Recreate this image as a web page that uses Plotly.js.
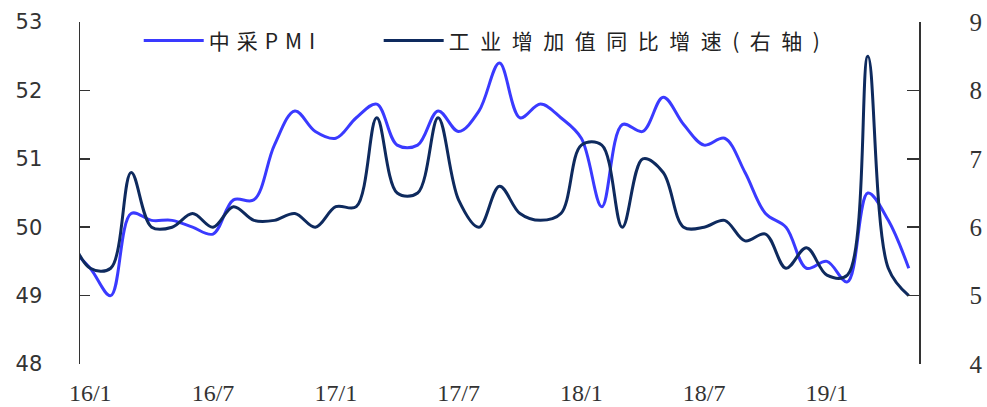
<!DOCTYPE html>
<html>
<head>
<meta charset="utf-8">
<script src="https://cdn.plot.ly/plotly-3.0.1.min.js"></script>
<style>
  html, body { margin: 0; padding: 0; background: #fff; }
  #chart { width: 987px; height: 407px; }
</style>
</head>
<body>
<div id="chart"></div>
<script>
// Monthly observations, 2015/12 through 2019/5
const months = [
  '15/12',
  '16/1','16/2','16/3','16/4','16/5','16/6','16/7','16/8','16/9','16/10','16/11','16/12',
  '17/1','17/2','17/3','17/4','17/5','17/6','17/7','17/8','17/9','17/10','17/11','17/12',
  '18/1','18/2','18/3','18/4','18/5','18/6','18/7','18/8','18/9','18/10','18/11','18/12',
  '19/1','19/2','19/3','19/4','19/5'
];

// Official manufacturing PMI (left axis)
const pmi = [
  49.7,
  49.4, 49.0, 50.2, 50.1, 50.1, 50.0, 49.9, 50.4, 50.4, 51.2, 51.7, 51.4,
  51.3, 51.6, 51.8, 51.2, 51.2, 51.7, 51.4, 51.7, 52.4, 51.6, 51.8, 51.6,
  51.3, 50.3, 51.5, 51.4, 51.9, 51.5, 51.2, 51.3, 50.8, 50.2, 50.0, 49.4,
  49.5, 49.2, 50.5, 50.1, 49.4
];

// Industrial value added, y/y % (right axis)
const ipGrowth = [
  5.9,
  5.4, 5.4, 6.8, 6.0, 6.0, 6.2, 6.0, 6.3, 6.1, 6.1, 6.2, 6.0,
  6.3, 6.3, 7.6, 6.5, 6.5, 7.6, 6.4, 6.0, 6.6, 6.2, 6.1, 6.2,
  7.2, 7.2, 6.0, 7.0, 6.8, 6.0, 6.0, 6.1, 5.8, 5.9, 5.4, 5.7,
  5.3, 5.3, 8.5, 5.4, 5.0
];

const tickLabels = ['16/1', '16/7', '17/1', '17/7', '18/1', '18/7', '19/1'];
const seriesNames = ['中采PMI', '工业增加值同比增速(右轴)'];

// month position: 16/1 sits at 0
const start = months.indexOf('16/1');
const xIdx = months.map((m, i) => i - start);
const labelPos = tickLabels.map(t => months.indexOf(t) - start);
const boundaryPos = labelPos.slice(1).map(p => p - 0.5);
const xRange = [-0.5, months.length - 1 - start + 0.5];

const serifFont = { family: 'Liberation Serif, DejaVu Serif, serif', size: 24, color: '#333' };
const sansFont = { family: 'DejaVu Sans, Verdana, sans-serif', size: 21, color: '#333' };
const legendFont = { family: 'Noto Sans CJK SC, sans-serif', size: 21, color: '#222' };

const traces = [
  {
    x: xIdx, y: pmi, name: seriesNames[0], type: 'scatter', mode: 'lines',
    line: { color: '#3a3aff', width: 3, shape: 'spline', smoothing: 1 },
    xaxis: 'x', yaxis: 'y', legend: 'legend'
  },
  {
    x: xIdx, y: ipGrowth, name: seriesNames[1], type: 'scatter', mode: 'lines',
    line: { color: '#0e2a5e', width: 3, shape: 'spline', smoothing: 1 },
    xaxis: 'x', yaxis: 'y2', legend: 'legend2'
  }
];

const legendBase = {
  orientation: 'h', xanchor: 'left', y: 0.945, yanchor: 'middle',
  itemwidth: 60, font: legendFont, bgcolor: 'rgba(0,0,0,0)'
};

const layout = {
  width: 987, height: 407,
  margin: { l: 80, r: 68, t: 22, b: 43 },
  paper_bgcolor: '#fff', plot_bgcolor: '#fff',
  showlegend: true,
  legend: Object.assign({}, legendBase, { x: 0.07 }),
  legend2: Object.assign({}, legendBase, { x: 0.356 }),
  xaxis: {
    range: xRange, showgrid: false, zeroline: false, showline: false,
    tickmode: 'array', tickvals: labelPos, ticktext: tickLabels,
    ticks: '', ticklabelstandoff: 12, tickfont: serifFont, fixedrange: true
  },
  // baseline at PMI = 50 carrying the month-boundary ticks
  xaxis2: {
    range: xRange, overlaying: 'x', anchor: 'free', position: 0.4,
    showgrid: false, zeroline: false, showline: true, linecolor: '#111', linewidth: 1.5,
    tickmode: 'array', tickvals: boundaryPos, ticks: 'inside', ticklen: 6,
    tickcolor: '#111', tickwidth: 1.5, showticklabels: false, fixedrange: true
  },
  yaxis: {
    range: [48, 53], dtick: 1, showgrid: false, zeroline: false,
    showline: true, linecolor: '#333', linewidth: 1.5,
    ticks: 'inside', ticklen: 10, tickcolor: '#333', tickwidth: 1.5,
    ticklabelstandoff: 32, tickfont: sansFont, fixedrange: true
  },
  yaxis2: {
    range: [4, 9], dtick: 1, overlaying: 'y', side: 'right', showgrid: false,
    zeroline: false, showline: true, linecolor: '#333', linewidth: 1.5,
    ticks: 'inside', ticklen: 12, tickcolor: '#333', tickwidth: 1.5,
    ticklabelstandoff: 44, tickfont: Object.assign({}, serifFont, { size: 25 }), fixedrange: true
  }
};

// letter spacing (px) for each legend entry
const legendSpacing = { [seriesNames[0]]: 7, [seriesNames[1]]: 10.5 };

Plotly.newPlot('chart', traces, layout, { staticPlot: true, displayModeBar: false }).then(gd => {
  // widen the legend lettering and let it run past the measured legend box
  gd.querySelectorAll('.infolayer text').forEach(t => {
    const sp = legendSpacing[t.textContent] || 7;
    t.setAttribute('letter-spacing', String(sp));
    t.style.letterSpacing = sp + 'px';
  });
  gd.querySelectorAll('.infolayer .scrollbox, .infolayer g[clip-path]').forEach(s => s.removeAttribute('clip-path'));
});
</script>
</body>
</html>
